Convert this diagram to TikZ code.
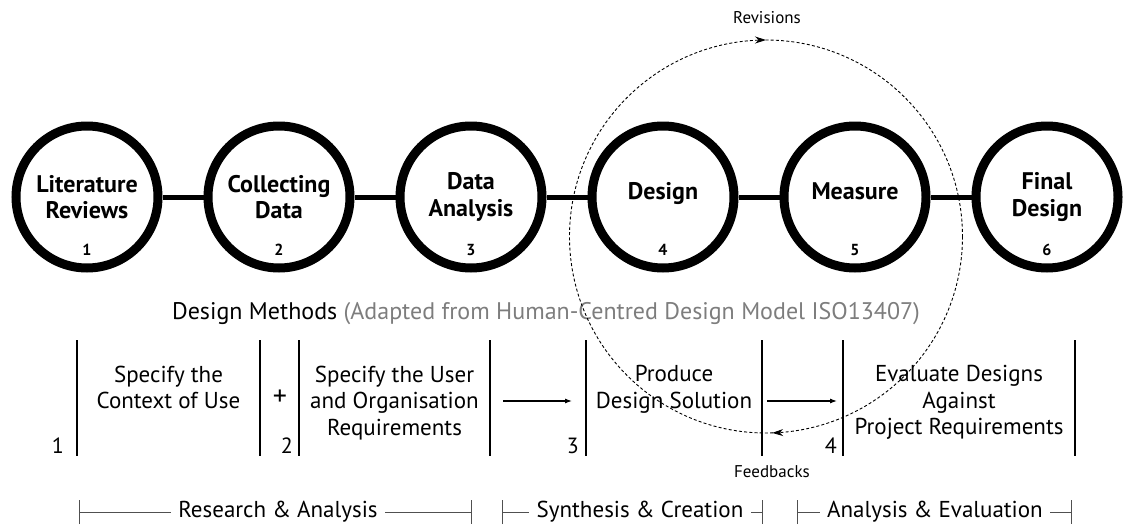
\documentclass[tikz,border=0pt]{standalone}
\usepackage{fontspec}
\setmainfont{PT Sans}
\usetikzlibrary{arrows.meta, positioning, calc, decorations.markings}
\definecolor{note}{RGB}{125,125,125}
\definecolor{rule}{RGB}{80,80,80}

\begin{document}
\begin{tikzpicture}[x=1pt, y=-1pt,
  stage/.style={circle, draw, line width=9pt, outer sep=4.5pt, fill=white,
    minimum size=142pt, inner sep=0pt, align=center,
    font=\fontsize{24}{26.5}\selectfont\bfseries},
  stagenum/.style={inner sep=0pt, font=\fontsize{16}{16}\selectfont\bfseries},
  method/.style={align=center, inner sep=0pt, anchor=north,
    font=\fontsize{23}{26.5}\selectfont},
  stepnum/.style={inner sep=0pt, anchor=base east, font=\fontsize{22}{22}\selectfont},
  bar/.style={line width=1.8pt},
  phase/.style={inner sep=7pt, font=\fontsize{23}{26}\selectfont},
  bracket/.style={draw=rule, line width=0.8pt},
  revloop/.style={dash pattern=on 3pt off 2.2pt, line width=0.9pt,
    postaction={decorate}, decoration={markings,
      mark=at position 0.245 with {\arrow[solid]{Stealth[length=11pt, width=7pt]}},
      mark=at position 0.75 with {\arrow[solid]{Stealth[length=11pt, width=7pt]}}}},
  >={Latex[length=7pt, width=5pt]}]
  \useasboundingbox (0,0) rectangle (1125,525);

  % stages
  \node[stage] (lit) at (87,197) {Literature\\Reviews};
  \node[stage, right=41pt of lit] (col) {Collecting\\Data};
  \node[stage, right=41pt of col] (ana) {Data\\Analysis};
  \node[stage, right=41pt of ana, text depth=13pt] (des) {Design};
  \node[stage, right=41pt of des, text depth=12pt] (mea) {Measure};
  \node[stage, right=41pt of mea] (fin) {Final\\Design};
  \foreach \s/\t in {lit/col,col/ana,ana/des,des/mea,mea/fin}
    \draw[line width=5pt] (\s) -- (\t);
  \foreach \s/\n in {lit/1,col/2,ana/3,des/4,mea/5,fin/6}
    \node[stagenum, above=17pt of \s.south] (\s-n) {\n};

  % design methods
  \node[font=\fontsize{24}{26}\selectfont, anchor=base] (meth) at (546,319)
    {Design Methods \textcolor{note}{(Adapted from Human-Centred Design Model ISO13407)}};
  \foreach \x in {77,260,299,490,586,762,843,1075}
    \draw[bar] (\x,340) -- (\x,456);
  \node[method] (ctx) at (168.5,365.5) {Specify the\\Context of Use};
  \node[method] (req) at (394.5,365.5) {Specify the User\\and Organisation\\Requirements};
  \node[method] (sol) at (674,365.5) {Produce\\Design Solution};
  \node[method] (eva) at (959,365.5) {Evaluate Designs\\Against\\Project Requirements};
  \node[stepnum] (m1) at (64,453) {1};
  \node[stepnum] (m2) at (293,453) {2};
  \node[stepnum] (m3) at (579,453) {3};
  \node[stepnum] (m4) at (837,453) {4};
  \node[font=\fontsize{28}{28}\selectfont] (plus) at (280,398) {+};
  \coordinate (reqR) at (490,401);
  \coordinate (solL) at (586,401);
  \coordinate (solR) at (762,401);
  \coordinate (evaL) at (843,401);
  \draw[->, line width=1.1pt, shorten <=13pt, shorten >=14pt] (reqR) -- (solL);
  \draw[->, line width=1.1pt, shorten <=5pt, shorten >=6pt] (solR) -- (evaL);

  % phases
  \node[phase] (ra) at (278,512) {Research \& Analysis};
  \node[phase] (sc) at (640,512) {Synthesis \& Creation};
  \node[phase] (ae) at (935,512) {Analysis \& Evaluation};
  \coordinate (raL) at (79,512);
  \coordinate (raR) at (472,512);
  \coordinate (scL) at (502,512);
  \coordinate (scR) at (763,512);
  \coordinate (aeL) at (797,512);
  \coordinate (aeR) at (1072,512);
  \foreach \p in {ra,sc,ae} {
    \draw[bracket, {Bar[width=24pt]}-] (\p L) -- (\p);
    \draw[bracket, {Bar[width=24pt]}-] (\p R) -- (\p);
  }

  % revisions / feedbacks loop
  \coordinate (loopc) at (766,236.5);
  \draw[revloop] (loopc) circle (196.5);
  \node[font=\fontsize{17}{17}\selectfont] (rev) at (767,18) {Revisions};
  \node[font=\fontsize{17}{17}\selectfont] (fb) at (772,472) {Feedbacks};
\end{tikzpicture}
\end{document}
